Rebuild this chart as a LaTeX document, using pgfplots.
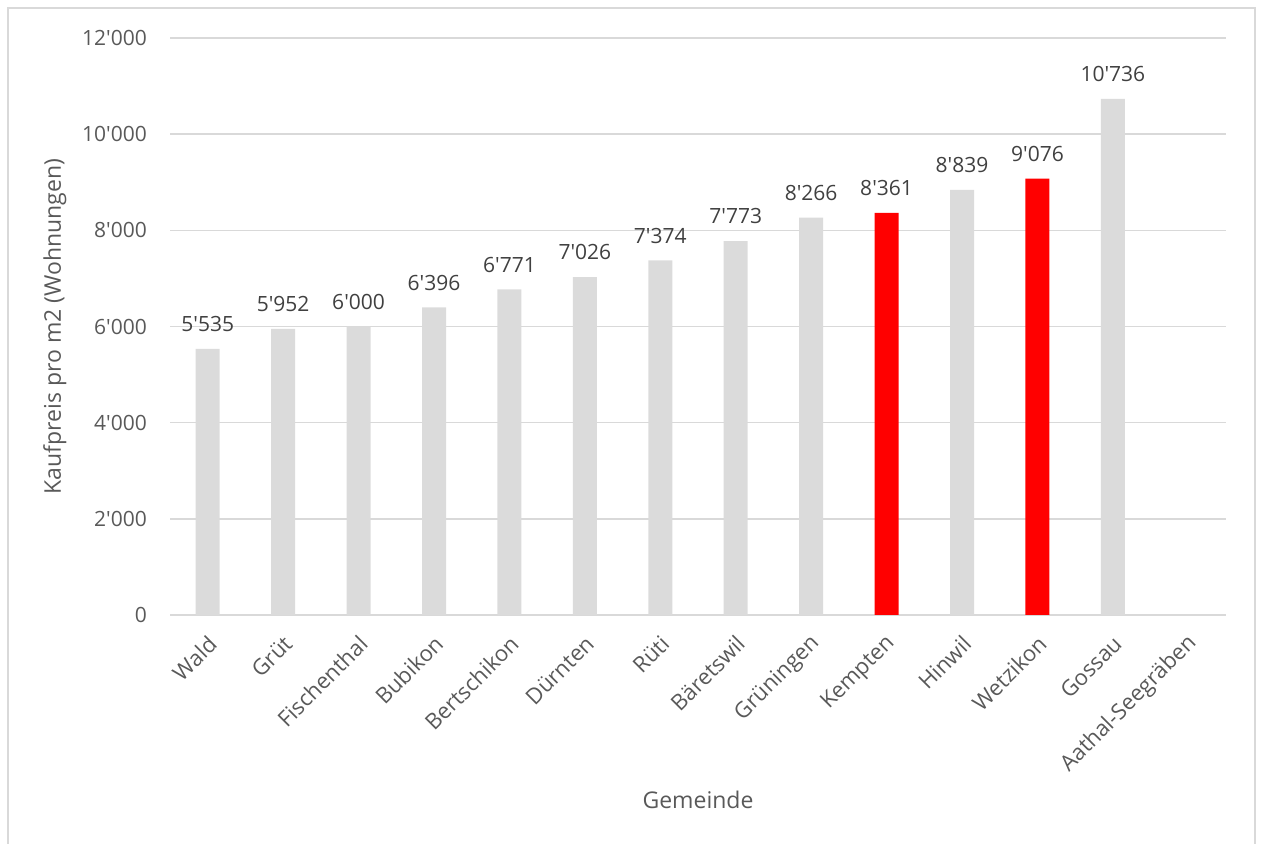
\documentclass[border=0pt]{standalone}
\usepackage{pgfplots}
\pgfplotsset{compat=1.18}
\usepackage{fontspec}
\setmainfont{Open Sans}
\definecolor{barg}{HTML}{DBDBDB}
\definecolor{gridc}{HTML}{D9D9D9}
\definecolor{txt}{HTML}{595959}
\definecolor{lbl}{HTML}{404040}
\definecolor{redb}{HTML}{FF0000}
\begin{document}
\begin{tikzpicture}[x=1bp,y=1bp]
\path[use as bounding box] (0,0) rectangle (1261,844);
\draw[gridc, line width=1.5bp] (8,0) -- (8,836) -- (1255,836) -- (1255,0);
\begin{axis}[
  at={(170bp,229bp)}, anchor=south west,
  scale only axis, width=1056bp, height=577bp,
  xmin=-0.5, xmax=13.5, ymin=0, ymax=12000,
  ytick={0,2000,4000,6000,8000,10000,12000},
  xtick={0,1,...,13},
  xticklabels={Wald,Grüt,Fischenthal,Bubikon,Bertschikon,Dürnten,Rüti,Bäretswil,Grüningen,Kempten,Hinwil,Wetzikon,Gossau,Aathal-Seegräben},
  scaled y ticks=false,
  /pgf/number format/.cd, fixed, precision=0, 1000 sep={\textquotesingle}, assume math mode=true,
  /pgfplots/.cd,
  axis line style={draw=none},
  major tick length=0pt,
  ymajorgrids, grid style={gridc, line width=1.5bp},
  yticklabel style={anchor=east, inner sep=0pt, xshift=-23bp, text=txt, font=\fontsize{21bp}{25bp}\selectfont},
  xticklabel style={anchor=east, inner sep=0pt, xshift=5bp, yshift=-25bp, rotate=45, text=txt, font=\fontsize{22bp}{26bp}\selectfont},
  every axis y label/.style={at={(axis description cs:-0.109,0.5)}, rotate=90, anchor=center, text=txt, font=\fontsize{23bp}{27bp}\selectfont},
  every axis x label/.style={at={(axis description cs:0.5,-0.321)}, anchor=center, text=txt, font=\fontsize{23bp}{27bp}\selectfont},
  ylabel={Kaufpreis pro m2 (Wohnungen)},
  xlabel={Gemeinde},
  ybar, bar width=24bp,
  nodes near coords,
  every node near coord/.append style={anchor=south, inner sep=0pt, yshift=17bp, text=lbl, font=\fontsize{21bp}{25bp}\selectfont},
  clip=false,
]
\addplot[fill=barg, draw=none, bar shift=0pt] coordinates {
  (0,5535) (1,5952) (2,6000) (3,6396) (4,6771) (5,7026) (6,7374) (7,7773) (8,8266) (10,8839) (12,10736)
};
\addplot[fill=redb, draw=none, bar shift=0pt] coordinates {
  (9,8361) (11,9076)
};
\end{axis}
\end{tikzpicture}
\end{document}
